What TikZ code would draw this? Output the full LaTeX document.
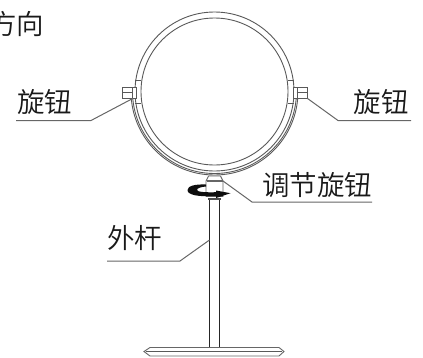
\documentclass[tikz,border=0pt]{standalone}
\usepackage{fontspec}
\newfontfamily\cjk{Noto Sans CJK SC DemiLight}
\begin{document}
\begin{tikzpicture}[x=1pt,y=-1pt,
  lbl/.style={font=\cjk\fontsize{27.5}{27.5}\selectfont,text=black!90,inner sep=0pt,anchor=base},
  leader/.style={draw=black!60,line width=1pt},
  ring/.style={draw=black!65,line width=0.9pt},
  part/.style={draw=black!65,line width=0.8pt,fill=white,inner sep=0pt},
  stem/.style={draw=black!85,line width=0.9pt}]
\useasboundingbox (0,0) rectangle (423,357);
\coordinate (c) at (214.5,93.5);
\coordinate (m) at (214.5,91.5);
% mirror rings
\draw[ring] (m) circle[radius=79.5];
\draw[ring] (m) circle[radius=73.5];
% lower frame
\begin{scope}
\clip (120,92) rectangle (310,180);
\draw[ring] (m) circle[radius=83.5];
\draw[ring] (m) circle[radius=82];
\end{scope}
% pivot ticks
\draw[ring] (135,80) -- (141,80) (135,103) -- (141,103) (288,80) -- (294,80) (288,103) -- (294,103);
% side knobs
\node[part,minimum width=4pt,minimum height=11pt] (kl2) at (134,92.5) {};
\node[part,minimum width=4pt,minimum height=11pt] (kr2) at (295,92.5) {};
\node[part,minimum width=10pt,minimum height=11pt] (kl) at (127.5,92.5) {};
\node[part,minimum width=10pt,minimum height=11pt] (kr) at (302,92.5) {};
\draw[black!65,line width=0.7pt] (kl.west) -- (kl.east) (kr.west) -- (kr.east);
% stem
\coordinate (st1) at (209.5,198);
\coordinate (sb1) at (209.5,348);
\coordinate (st2) at (219.5,198);
\coordinate (sb2) at (219.5,348);
\draw[stem] (st1) -- (sb1);
\draw[stem] (st2) -- (sb2);
% base
\draw[black!60,line width=0.9pt,fill=white] (144,351.5) -- (150,347.5) -- (279,347.5) -- (284,351.5) -- (279,356) -- (150,356) -- cycle;
\draw[black!65,line width=1.4pt] (146,351.5) -- (282,351.5);
% centre knob
\draw[black!60,line width=0.9pt,fill=white] (208.5,176) -- (220.5,176) -- (223,181) -- (223,196.5) -- (206,196.5) -- (206,181) -- cycle;
\draw[black!60,line width=1.2pt] (206.5,181) -- (222.5,181);
\draw[black!70,line width=2pt] (208,198.5) -- (221,198.5);
% rotation arrow
\fill[black!95] (206,184.5) .. controls (195,184) and (187.5,186) .. (187.5,190) .. controls (187.5,195) and (198,197) .. (216,196) -- (216,198) -- (230.5,193.2) -- (216,190.5) -- (216,192.2) .. controls (206,192.5) and (197,192) .. (197,190) .. controls (197,188) and (201,187) .. (206,186.5) -- cycle;
% labels
\node[lbl] (tl) at (44.5,112.5) {旋钮};
\node[lbl] (tr) at (381,112.5) {旋钮};
\node[lbl] (tk) at (317,195) {调节旋钮};
\node[lbl] (tg) at (134.5,248) {外杆};
\node[lbl,anchor=base east] (tf) at (44.5,34) {方向};
% leaders
\coordinate (a1) at (91,120.5);
\coordinate (a2) at (16,120.5);
\coordinate (b1) at (338,120.5);
\coordinate (b2) at (411,120.5);
\coordinate (d1) at (252,202);
\coordinate (d2) at (372,202);
\coordinate (e1) at (180,261);
\coordinate (e2) at (107,261);
\coordinate (e0) at (209.5,240);
\coordinate (d0) at (223,181);
\draw[leader] (kl.south east) -- (a1) -- (a2);
\draw[leader] (kr.south east) -- (b1) -- (b2);
\draw[leader] (d0) -- (d1) -- (d2);
\draw[leader] (e0) -- (e1) -- (e2);
\end{tikzpicture}
\end{document}
